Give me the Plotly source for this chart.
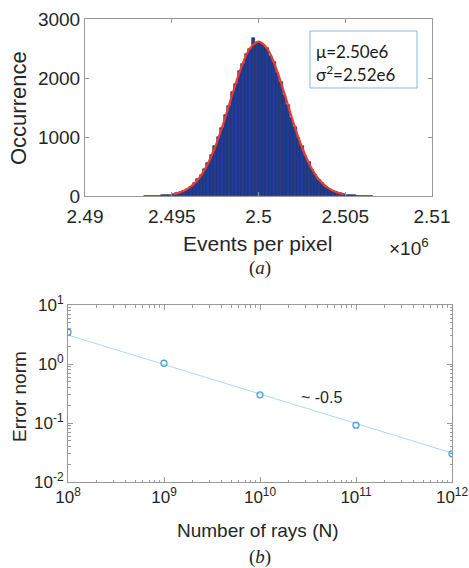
import plotly.graph_objects as go

# ---- data: histogram (a) ----
bin_centers = [2.4935e6 + 200 * i for i in range(66)]  # bin width 200 events
counts = [1, 2, 2, 4, 8, 9, 16, 20, 35, 47, 61, 92, 122, 158, 220, 285, 350, 462,
          552, 700, 842, 1005, 1150, 1370, 1525, 1760, 1900, 2120, 2240, 2410, 2490,
          2680, 2600,
          2590, 2555, 2510, 2380, 2265, 2080, 1935, 1715, 1550, 1330, 1170, 975, 840,
          675, 570, 440, 360, 268, 215, 155, 122, 85, 66, 43, 33, 21, 14, 11, 6, 5, 3, 1, 1]

fit_x = [2.4951e6, 2.4955e6, 2.4960e6, 2.4965e6, 2.4970e6, 2.4975e6, 2.4980e6, 2.4985e6,
         2.4990e6, 2.4995e6, 2.5000e6, 2.5005e6, 2.5010e6, 2.5015e6, 2.5020e6, 2.5025e6,
         2.5030e6, 2.5035e6, 2.5040e6, 2.5045e6, 2.5049e6]
fit_y = [32, 64, 139, 276, 501, 830, 1254, 1730, 2177, 2498, 2615, 2498, 2177, 1730,
         1254, 830, 501, 276, 139, 64, 32]

x_ticks_a = [2.49e6, 2.495e6, 2.5e6, 2.505e6, 2.51e6]
x_ticktext_a = ["2.49", "2.495", "2.5", "2.505", "2.51"]
y_ticks_a = [0, 1000, 2000, 3000]

# ---- data: convergence (b) ----
rays = [1e8, 1e9, 1e10, 1e11, 1e12]
err = [3.45, 1.03, 0.30, 0.092, 0.030]
fit_rays = [1e8, 1e12]
fit_err = [3.1, 0.031]
x_ticks_b = [1e8, 1e9, 1e10, 1e11, 1e12]
x_ticktext_b = ["10<sup>8</sup>", "10<sup>9</sup>", "10<sup>10</sup>", "10<sup>11</sup>", "10<sup>12</sup>"]
y_ticks_b = [1e-2, 1e-1, 1e0, 1e1]
y_ticktext_b = ["10<sup>-2</sup>", "10<sup>-1</sup>", "10<sup>0</sup>", "10<sup>1</sup>"]

W, H = 469, 568
FONT = "Liberation Sans, Arial, sans-serif"
AXC = "#9a9a9a"
TXT = "#262626"

fig = go.Figure()
fig.add_trace(go.Bar(x=bin_centers, y=counts, width=200,
                     marker=dict(color="#1f3d98", line=dict(color="#1a2550", width=0.6)),
                     xaxis="x", yaxis="y", showlegend=False))
fig.add_trace(go.Scatter(x=fit_x, y=fit_y, mode="lines", line=dict(color="#ee3b2b", width=2.2, shape="spline"),
                         xaxis="x", yaxis="y", showlegend=False))

fig.add_trace(go.Scatter(x=fit_rays, y=fit_err, mode="lines", line=dict(color="#b0d8ef", width=1),
                         xaxis="x2", yaxis="y2", showlegend=False))
fig.add_trace(go.Scatter(x=rays, y=err, mode="markers",
                         marker=dict(symbol="circle-open", size=6, color="#4aa0d8", line=dict(width=1.3)),
                         xaxis="x2", yaxis="y2", showlegend=False))

def px_x(p):
    return p / W

def px_y(p):
    return 1 - p / H

def common(size):
    return dict(showline=True, linecolor=AXC, linewidth=1, mirror="ticks", ticks="inside",
                tickcolor=AXC, showgrid=False, zeroline=False, automargin=False,
                tickfont=dict(family=FONT, size=size, color=TXT))

minor_x = []
for d in range(8, 12):
    for m in range(2, 10):
        minor_x.append(m * 10 ** d)
minor_y = []
for d in range(-2, 1):
    for m in range(2, 10):
        minor_y.append(m * 10.0 ** d)

fig.update_layout(
    template="none",
    width=W, height=H, margin=dict(l=0, r=0, t=0, b=0, autoexpand=False),
    paper_bgcolor="white", plot_bgcolor="white", bargap=0,
    xaxis=dict(domain=[px_x(85), px_x(432)], range=[2.49e6, 2.51e6], tickvals=x_ticks_a,
               ticktext=x_ticktext_a, ticklen=4, anchor="y", ticklabelstandoff=3, **common(19)),
    yaxis=dict(domain=[px_y(196), px_y(19)], range=[0, 3000], tickvals=y_ticks_a, ticklen=4,
               anchor="x", **common(19)),
    xaxis2=dict(domain=[px_x(68), px_x(452)], type="log", range=[8, 12], tickvals=x_ticks_b,
                ticktext=x_ticktext_b, ticklen=5, anchor="y2",
                minor=dict(tickvals=minor_x, ticks="inside", ticklen=2.5, tickcolor=AXC),
                **common(17)),
    yaxis2=dict(domain=[px_y(482), px_y(305)], type="log", range=[-2, 1], tickvals=y_ticks_b,
                ticktext=y_ticktext_b, ticklen=5, anchor="x2",
                minor=dict(tickvals=minor_y, ticks="inside", ticklen=2.5, tickcolor=AXC),
                **common(17)),
)

ann = [
    dict(x=px_x(19), y=px_y(108), text="Occurrence", textangle=-90, font=dict(size=22)),
    dict(x=px_x(257), y=px_y(243), text="Events per pixel", font=dict(size=21)),
    dict(x=px_x(409), y=px_y(247), text="×10<sup>6</sup>", font=dict(size=19)),
    dict(x=px_x(260), y=px_y(268), text="(<i>a</i>)", font=dict(size=19, family="Liberation Serif, Times New Roman, serif")),
    dict(x=px_x(19), y=px_y(397), text="Error norm", textangle=-90, font=dict(size=19)),
    dict(x=px_x(258), y=px_y(530), text="Number of rays (N)", font=dict(size=19)),
    dict(x=px_x(260), y=px_y(557), text="(<i>b</i>)", font=dict(size=19, family="Liberation Serif, Times New Roman, serif")),
    dict(x=px_x(321), y=px_y(397), text="~ -0.5", font=dict(size=16)),
]
annotations = []
for a in ann:
    f = dict(family=FONT, color=TXT)
    f.update(a.pop("font"))
    annotations.append(dict(xref="paper", yref="paper", showarrow=False, xanchor="center",
                            yanchor="middle", font=f, **a))

box_font = dict(family="Lato, Open Sans, sans-serif", size=17, color="#1a1a1a")
annotations.append(dict(xref="paper", yref="paper", x=px_x(314), y=px_y(51), xanchor="left",
                        yanchor="middle", showarrow=False, text="μ=2.50e6", font=box_font))
annotations.append(dict(xref="paper", yref="paper", x=px_x(314), y=px_y(73), xanchor="left",
                        yanchor="middle", showarrow=False, text="σ<sup>2</sup>=2.52e6", font=box_font))
fig.update_layout(annotations=annotations)
fig.add_shape(type="rect", xref="paper", yref="paper", x0=px_x(310), x1=px_x(417),
              y0=px_y(88), y1=px_y(31), line=dict(color="#86b8e0", width=1), fillcolor="white",
              layer="below")

fig.write_html("out.html")
